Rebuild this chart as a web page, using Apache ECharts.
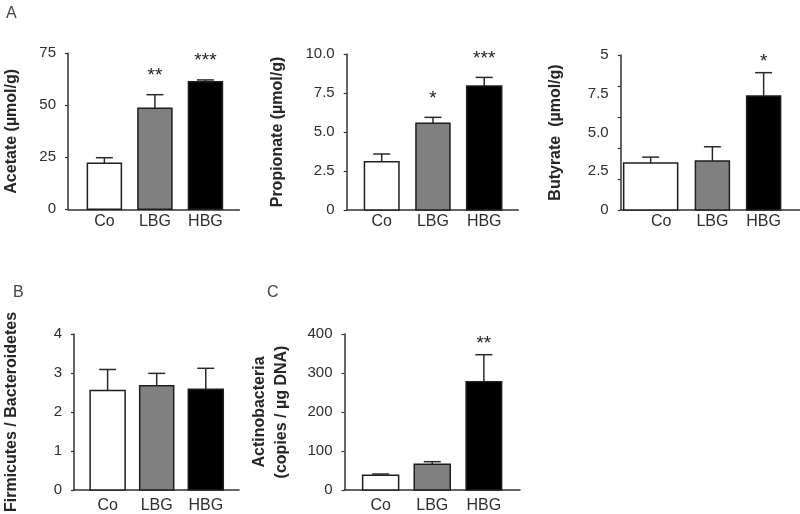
<!DOCTYPE html>
<html>
<head>
<meta charset="utf-8">
<script src="https://cdn.jsdelivr.net/npm/echarts@6/dist/echarts.min.js"></script>
<style>html,body{margin:0;padding:0;background:#fff}#c{width:800px;height:514px}</style>
</head>
<body>
<div id="c"></div>
<script>
// ---- data ----
const categories = ['Co', 'LBG', 'HBG'];

const acetateMean = [22.1, 48.6, 61.3];
const acetateSem = [2.7, 6.5, 0.9];
const acetateSig = ['', '**', '***'];

const propionateMean = [3.10, 5.56, 7.95];
const propionateSem = [0.49, 0.38, 0.55];
const propionateSig = ['', '*', '***'];

const butyrateMean = [3.03, 3.16, 7.35];
const butyrateSem = [0.38, 0.92, 1.51];
const butyrateSig = ['', '', '*'];

const ratioMean = [2.55, 2.67, 2.58];
const ratioSem = [0.54, 0.32, 0.54];
const ratioSig = ['', '', ''];

const actinoMean = [37.7, 65.9, 277.7];
const actinoSem = [3.3, 6.7, 69.2];
const actinoSig = ['', '', '**'];

// tick values / labels
const acetateTickValues = [0, 25, 50, 75];
const acetateTickLabels = ['0', '25', '50', '75'];
const propionateTickValues = [0, 2.5, 5, 7.5, 10];
const propionateTickLabels = ['0', '2.5', '5.0', '7.5', '10.0'];
const butyrateTickMarks = [0, 2, 4, 6, 8, 10];
const butyrateTickValues = [0, 2.5, 5, 7.5, 10];
const butyrateTickLabels = ['0', '2.5', '5.0', '7.5', '5'];
const ratioTickValues = [0, 1, 2, 3, 4];
const ratioTickLabels = ['0', '1', '2', '3', '4'];
const actinoTickValues = [0, 100, 200, 300, 400];
const actinoTickLabels = ['0', '100', '200', '300', '400'];

// ---- layout / style ----
const FONT = '"Liberation Sans", Arial, sans-serif';
const AXIS = '#333';
const TXT = '#2e2e2e';
const fills = ['#ffffff', '#808080', '#000000'];

const panels = [
  { name: 'Acetate (µmol/g)', mean: acetateMean, sem: acetateSem, sig: acetateSig,
    grid: { left: 65, top: 53.3, width: 174.3, height: 156 }, xmin: -0.72, xmax: 2.67,
    ymax: 75, tickMarks: acetateTickValues, tickValues: acetateTickValues, tickLabels: acetateTickLabels,
    nameGap: 45, catMargin: 4, barWidths: [34, 34, 34], barShift: [0, 0, 0], starGap: 19 },
  { name: 'Propionate (µmol/g)', mean: propionateMean, sem: propionateSem, sig: propionateSig,
    grid: { left: 346.7, top: 54, width: 171.6, height: 156 }, xmin: -0.683, xmax: 2.665,
    ymax: 10, tickMarks: propionateTickValues, tickValues: propionateTickValues, tickLabels: propionateTickLabels,
    nameGap: 58, catMargin: 4, barWidths: [34.5, 34, 35], barShift: [0, 0, 0], starGap: 19 },
  { name: 'Butyrate  (µmol/g)', mean: butyrateMean, sem: butyrateSem, sig: butyrateSig,
    grid: { left: 620.7, top: 55, width: 179.3, height: 155 }, xmin: -0.79, xmax: 2.71,
    ymax: 10, tickMarks: butyrateTickMarks, tickValues: butyrateTickValues, tickLabels: butyrateTickLabels,
    nameGap: 54, catMargin: 4, barWidths: [54, 34, 34], barShift: [-10.5, 0, 0], starGap: 11 },
  { name: 'Firmicutes / Bacteroidetes', mean: ratioMean, sem: ratioSem, sig: ratioSig,
    grid: { left: 66.7, top: 334, width: 172.3, height: 156 }, xmin: -0.685, xmax: 2.677,
    ymax: 4, tickMarks: ratioTickValues, tickValues: ratioTickValues, tickLabels: ratioTickLabels,
    nameGap: 51, catMargin: 8, barWidths: [35, 34, 35], barShift: [0, 0, 0], starGap: 19 },
  { name: 'Actinobacteria\n(copies / µg DNA)', mean: actinoMean, sem: actinoSem, sig: actinoSig,
    grid: { left: 344.5, top: 334, width: 175.5, height: 156 }, xmin: -0.70, xmax: 2.70,
    ymax: 400, tickMarks: actinoTickValues, tickValues: actinoTickValues, tickLabels: actinoTickLabels,
    nameGap: 52, catMargin: 8, barWidths: [36, 36, 35.5], barShift: [0, 0, 0], starGap: 11 }
];

const grids = [], xAxes = [], yAxes = [], series = [];
panels.forEach((p, k) => {
  grids.push(Object.assign({ containLabel: false }, p.grid));
  xAxes.push({
    gridIndex: k, type: 'value', min: p.xmin, max: p.xmax,
    axisLine: { show: true, onZero: false, lineStyle: { color: AXIS, width: 1.5 } },
    axisTick: { show: false }, splitLine: { show: false },
    axisLabel: {
      customValues: [0, 1, 2], margin: p.catMargin,
      formatter: v => categories[Math.round(v)] || '',
      fontSize: 16, color: TXT, fontFamily: FONT
    }
  });
  yAxes.push({
    gridIndex: k, type: 'value', min: 0, max: p.ymax,
    name: p.name, nameLocation: 'middle', nameRotate: 90, nameGap: p.nameGap,
    nameTextStyle: { fontSize: 16, fontWeight: 'bold', color: '#262626', fontFamily: FONT, lineHeight: 22 },
    axisLine: { show: true, onZero: false, lineStyle: { color: AXIS, width: 1.5 } },
    axisTick: { show: true, length: 3, customValues: p.tickMarks, lineStyle: { color: AXIS, width: 1.2 } },
    splitLine: { show: false },
    axisLabel: {
      customValues: p.tickValues, margin: 12,
      formatter: v => { const idx = p.tickValues.indexOf(v); return idx >= 0 ? p.tickLabels[idx] : ''; },
      fontSize: 15, color: TXT, fontFamily: FONT
    }
  });
  series.push({
    type: 'custom', xAxisIndex: k, yAxisIndex: k, clip: false,
    data: categories.map((c, i) => [i, p.mean[i], p.sem[i]]),
    renderItem: (params, api) => {
      const i = api.value(0), m = api.value(1), s = api.value(2);
      const base = api.coord([i, 0]);
      const top = api.coord([i, m]);
      const et = api.coord([i, m + s]);
      const w = p.barWidths[i];
      const cx = base[0] + p.barShift[i];
      const children = [
        { type: 'line', shape: { x1: cx, y1: top[1], x2: cx, y2: et[1] }, style: { stroke: '#2a2a2a', lineWidth: 1.5 } },
        { type: 'line', shape: { x1: cx - 8.5, y1: et[1], x2: cx + 8.5, y2: et[1] }, style: { stroke: '#2a2a2a', lineWidth: 1.5 } },
        { type: 'rect', shape: { x: cx - w / 2, y: top[1], width: w, height: base[1] - top[1] },
          style: { fill: fills[i], stroke: '#1e1e1e', lineWidth: 1.5 } }
      ];
      if (p.sig[i]) {
        children.push({ type: 'text', style: { text: p.sig[i], x: cx, y: et[1] - p.starGap,
          align: 'center', verticalAlign: 'middle', fill: '#222', fontSize: 19, fontFamily: FONT } });
      }
      return { type: 'group', children };
    }
  });
});

const chart = echarts.init(document.getElementById('c'), null, { renderer: 'canvas' });
chart.setOption({
  animation: false,
  backgroundColor: '#fff',
  title: [
    { text: 'A', left: 1, top: 1, textStyle: { fontSize: 16, fontWeight: 'normal', color: '#444', fontFamily: FONT } },
    { text: 'B', left: 8, top: 280, textStyle: { fontSize: 16, fontWeight: 'normal', color: '#444', fontFamily: FONT } },
    { text: 'C', left: 262, top: 280, textStyle: { fontSize: 16, fontWeight: 'normal', color: '#444', fontFamily: FONT } }
  ],
  grid: grids, xAxis: xAxes, yAxis: yAxes, series: series
});
</script>
</body>
</html>
